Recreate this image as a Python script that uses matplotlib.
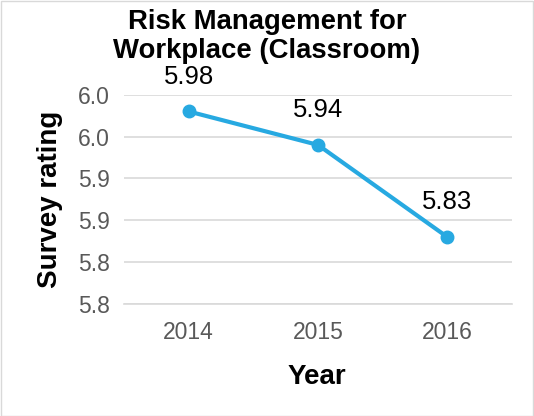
import matplotlib
matplotlib.use("Agg")
import matplotlib.pyplot as plt
from matplotlib.patches import Rectangle

years = ["2014", "2015", "2016"]
ratings = [5.98, 5.94, 5.83]
y_ticks = [5.75, 5.80, 5.85, 5.90, 5.95, 6.00]
y_tick_labels = ["5.8", "5.8", "5.9", "5.9", "6.0", "6.0"]

plt.rcParams['font.family'] = ['Liberation Sans', 'DejaVu Sans']

fig = plt.figure(figsize=(5.34, 4.16), dpi=100)
ax = fig.add_axes([124/534, 1-304/416, (512-124)/534, (304-94.7)/416])

x = list(range(len(years)))
color = '#27A9E1'
ax.plot(x, ratings, color=color, lw=3, marker='o', ms=9, zorder=3)
for xi, v in zip(x, ratings):
    ax.annotate(f"{v:.2f}", (xi, v), xytext=(0, 25), textcoords='offset points',
                ha='center', va='center', fontsize=18.5, color='black')

ax.set_xlim(-0.5, 2.5)
ax.set_ylim(5.75, 6.00)
ax.set_yticks(y_ticks)
ax.set_yticklabels(y_tick_labels)
ax.set_xticks(x)
ax.set_xticklabels(years)
ax.tick_params(axis='both', length=0, labelsize=16.5, colors='#595959')
ax.tick_params(axis='y', pad=10)
ax.tick_params(axis='x', pad=12)
ax.grid(axis='y', color='#d9d9d9', lw=1.2)
ax.set_axisbelow(True)
for s in ['top', 'right', 'left']:
    ax.spines[s].set_visible(False)
ax.spines['bottom'].set_color('#d9d9d9')
ax.spines['bottom'].set_linewidth(1.2)

fig.text(0.5, 1-9/416, "Risk Management for\nWorkplace (Classroom)", ha='center', va='top',
         fontsize=19.8, fontweight='bold', linespacing=1.15)
fig.text(50/534, 1-199/416, "Survey rating", rotation=90, ha='center', va='center',
         fontsize=20, fontweight='bold')
fig.text(317/534, 1-377/416, "Year", ha='center', va='center', fontsize=20, fontweight='bold')

fig.patches.append(Rectangle((0.5/534, 0.5/416), 1-1.5/534, 1-1.5/416, transform=fig.transFigure,
                             fill=False, edgecolor='#d9d9d9', lw=1))

fig.savefig("out.png", dpi=100)
